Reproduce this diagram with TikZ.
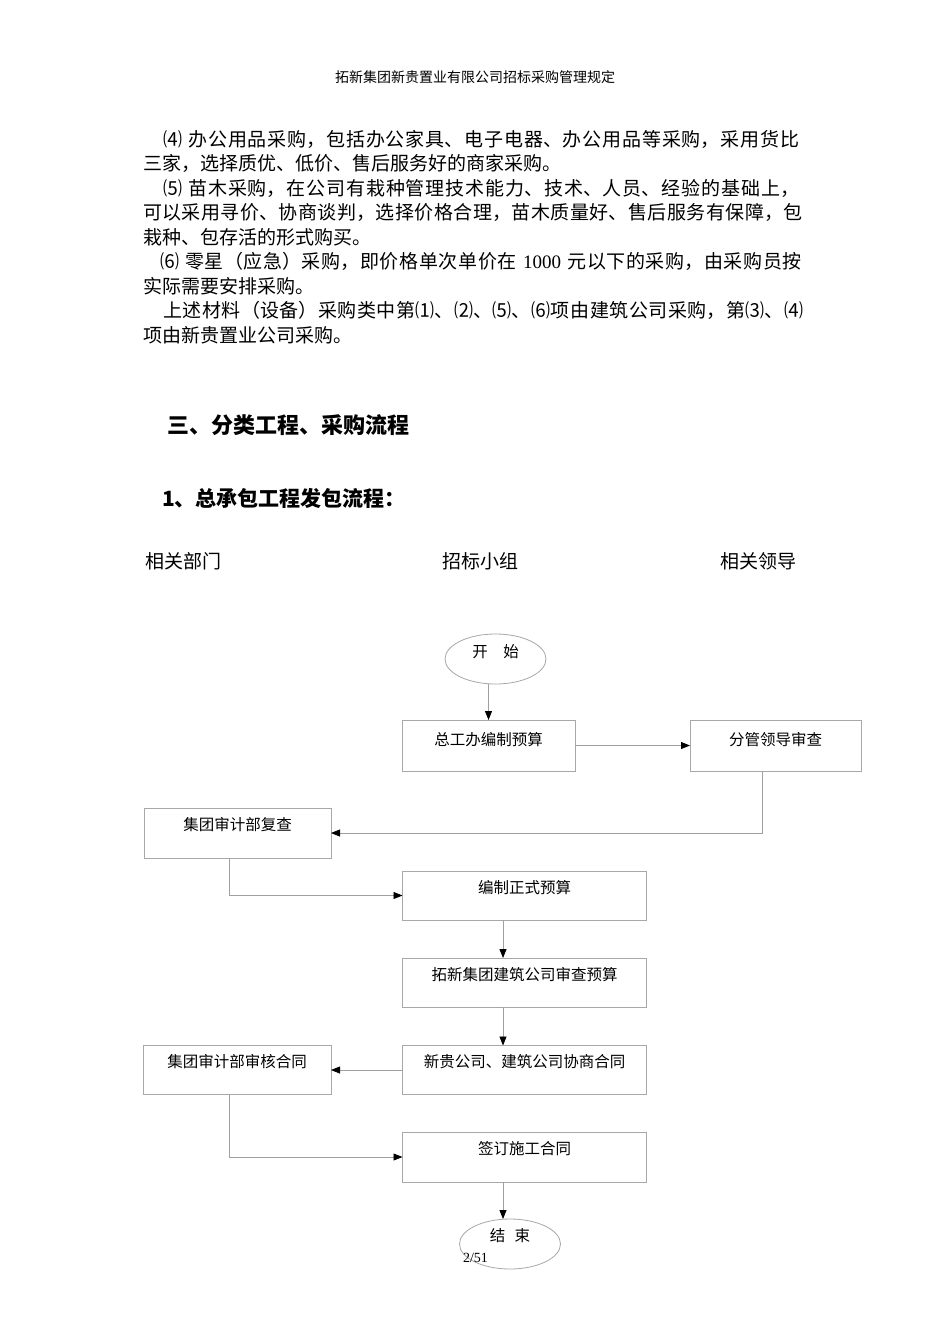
\documentclass[tikz,border=0pt]{standalone}
\usepackage{fontspec}
\newfontfamily\cjk{Noto Sans CJK SC}
\newfontfamily\lat{Liberation Serif}
\usetikzlibrary{arrows.meta,shapes.geometric,calc}
\definecolor{boxgray}{HTML}{A8A8A8}
\definecolor{linegray}{HTML}{A0A0A0}
\newcommand\jline[1]{\XeTeXlinebreaklocale "zh"\XeTeXlinebreakskip=0pt plus 3pt\parfillskip=0pt\tolerance=9000\relax\noindent #1\par}
\tikzset{
  every node/.style={font=\cjk, inner sep=0pt, outer sep=0pt},
  bodyline/.style={anchor=base west, font=\cjk\fontsize{19}{23}\selectfont},
  jbody/.style={bodyline, text width=#1},
  flowbox/.style={draw=boxgray, line width=0.8pt, rectangle, font=\cjk\fontsize{15.5}{18}\selectfont, text height=18pt, text depth=23pt, align=center},
  flowoval/.style={draw=boxgray, line width=0.8pt, ellipse, minimum width=101pt, minimum height=50pt, font=\cjk\fontsize{15.5}{18}\selectfont},
  arr/.style={draw=linegray, line width=0.8pt, -{Triangle[length=9pt,width=7pt,color=black]}},
}
\begin{document}
\begin{tikzpicture}[x=1pt,y=-1pt]
\useasboundingbox (0,0) rectangle (950,1344);
\fill[white] (0,0) rectangle (950,1344);

% header
\node[anchor=base, font=\cjk\fontsize{14}{16}\selectfont] (header) at (475,82.3) {拓新集团新贵置业有限公司招标采购管理规定};

% body text
\node[jbody=647pt] (l1) at (163,146.2) {\jline{⑷ 办公用品采购，包括办公家具、电子电器、办公用品等采购，采用货比}};
\node[bodyline] (l2) at (143,170.7) {三家，选择质优、低价、售后服务好的商家采购。};
\node[jbody=647pt] (l3) at (163,195.2) {\jline{⑸ 苗木采购，在公司有栽种管理技术能力、技术、人员、经验的基础上，}};
\node[jbody=666pt] (l4) at (143,219.7) {\jline{可以采用寻价、协商谈判，选择价格合理，苗木质量好、售后服务有保障，包}};
\node[bodyline] (l5) at (143,244.2) {栽种、包存活的形式购买。};
\node[jbody=650pt] (l6) at (160,268.7) {\jline{⑹ 零星（应急）采购，即价格单次单价在 {\lat 1000} 元以下的采购，由采购员按}};
\node[bodyline] (l7) at (143,293.2) {实际需要安排采购。};
\node[jbody=647pt] (l8) at (163,317.7) {\jline{上述材料（设备）采购类中第⑴、⑵、⑸、⑹项由建筑公司采购，第⑶、⑷}};
\node[bodyline] (l9) at (143,342.2) {项由新贵置业公司采购。};

% headings
\node[anchor=base west, font=\cjk\bfseries\fontsize{22}{26}\selectfont] (h1) at (167,433.4) {三、分类工程、采购流程};
\node[anchor=base west, font=\cjk\bfseries\fontsize{21}{25}\selectfont] (h2) at (162,506) {1、总承包工程发包流程：};

% column labels
\node[bodyline] (c1) at (145,568.2) {相关部门};
\node[bodyline] (c2) at (442,568.2) {招标小组};
\node[bodyline] (c3) at (720,568.2) {相关领导};

% flowchart
\node[flowoval, text height=12pt, text depth=14.6pt] (start) at (495.5,659) {开\hspace{1em}始};
\node[flowbox, minimum width=173pt, minimum height=51pt, text depth=19pt] (A) at (488.5,745.5) {总工办编制预算};
\node[flowbox, minimum width=171pt, minimum height=51pt, text depth=19pt] (B) at (775.5,745.5) {分管领导审查};
\node[flowbox, minimum width=187pt, minimum height=50pt] (C) at (237.5,833) {集团审计部复查};
\node[flowbox, minimum width=244pt, minimum height=49pt] (D) at (524.5,895.5) {编制正式预算};
\node[flowbox, minimum width=244pt, minimum height=49pt] (E) at (524.5,982.5) {拓新集团建筑公司审查预算};
\node[flowbox, minimum width=244pt, minimum height=49pt] (F) at (524.5,1070) {新贵公司、建筑公司协商合同};
\node[flowbox, minimum width=188pt, minimum height=49pt] (G) at (237,1070) {集团审计部审核合同};
\node[flowbox, minimum width=244pt, minimum height=50pt] (H) at (524.5,1157) {签订施工合同};
\node[flowoval, text height=12pt, text depth=16.6pt] (end) at (510,1244) {结\hspace{0.6em}束};
\node[anchor=base west, font=\lat\fontsize{14}{16}\selectfont] (pagenum) at (463,1262) {2/51};

\draw[arr] ([xshift=-7pt]start.south) -- (A.north);
\draw[arr] (A.east) -- (B.west);
\draw[arr] ([xshift=-13.5pt]B.south) |- (C.east);
\draw[arr] ([xshift=-8.5pt]C.south) |- (D.west);
\draw[arr] ([xshift=-21.5pt]D.south) -- ([xshift=-21.5pt]E.north);
\draw[arr] ([xshift=-21.5pt]E.south) -- ([xshift=-21.5pt]F.north);
\draw[arr] (F.west) -- (G.east);
\draw[arr] ([xshift=-8pt]G.south) |- (H.west);
\draw[arr] ([xshift=-21.5pt]H.south) -- ([xshift=-7pt]end.north);
\end{tikzpicture}
\end{document}
